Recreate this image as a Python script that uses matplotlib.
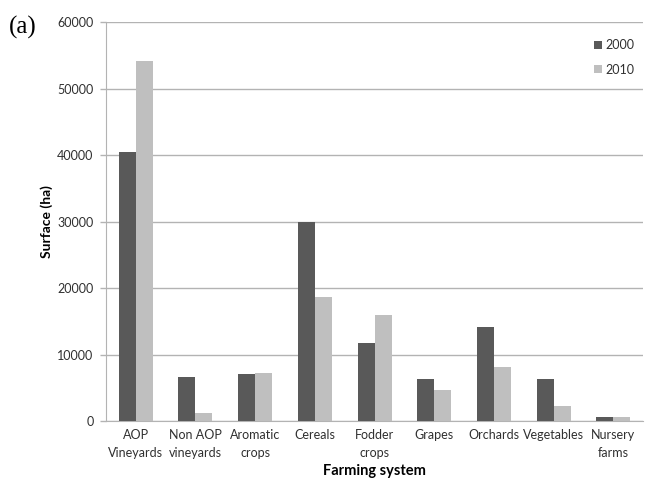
import numpy as np
import matplotlib.pyplot as plt

categories = ["AOP\nVineyards", "Non AOP\nvineyards", "Aromatic\ncrops", "Cereals",
              "Fodder\ncrops", "Grapes", "Orchards", "Vegetables", "Nursery\nfarms"]
surface_2000 = [40400, 6600, 7000, 30000, 11800, 6300, 14200, 6300, 650]
surface_2010 = [54100, 1250, 7250, 18700, 16000, 4700, 8200, 2300, 550]
years = ["2000", "2010"]

plt.rcParams['font.family'] = ['Lato', 'DejaVu Sans']

fig = plt.figure(figsize=(6.45, 4.79), dpi=100)
ax = fig.add_axes([0.1643, 0.121, 0.8327, 0.833])

x = np.arange(len(categories))
w = 0.285
ax.bar(x - w / 2, surface_2000, w, color='#595959', label=years[0], zorder=3)
ax.bar(x + w / 2, surface_2010, w, color='#bfbfbf', label=years[1], zorder=3)

ax.set_xlim(-0.5, len(categories) - 0.5)
ax.set_ylim(0, 60000)
ax.set_yticks(range(0, 60001, 10000))
ax.yaxis.grid(True, color='#b3b3b3', linewidth=1, zorder=0)
ax.set_xticks(x)
ax.set_xticklabels(categories, fontsize=9, color='#303030', linespacing=1.55)
ax.tick_params(axis='x', length=0, pad=6)
ax.tick_params(axis='y', labelsize=9, labelcolor='#303030', length=4, color='#b3b3b3', width=1,
               pad=5)

for s in ['top', 'right']:
    ax.spines[s].set_visible(False)
ax.spines['left'].set_color('#b3b3b3')
ax.spines['bottom'].set_color('#b3b3b3')

ax.set_ylabel("Surface (ha)", fontsize=10, fontweight='bold', labelpad=3)
ax.set_xlabel("Farming system", fontsize=10.5, fontweight='bold')
ax.xaxis.set_label_coords(0.5, -0.108)

leg = ax.legend(loc='upper right', bbox_to_anchor=(1.005, 0.985), frameon=False,
                fontsize=9, handlelength=0.6, handleheight=0.6, handletextpad=0.3,
                labelspacing=1.0)
for t in leg.get_texts():
    t.set_color('#303030')

fig.text(0.014, 0.93, "(a)", fontsize=18, family='Liberation Serif')

fig.savefig("out.png", dpi=100)
